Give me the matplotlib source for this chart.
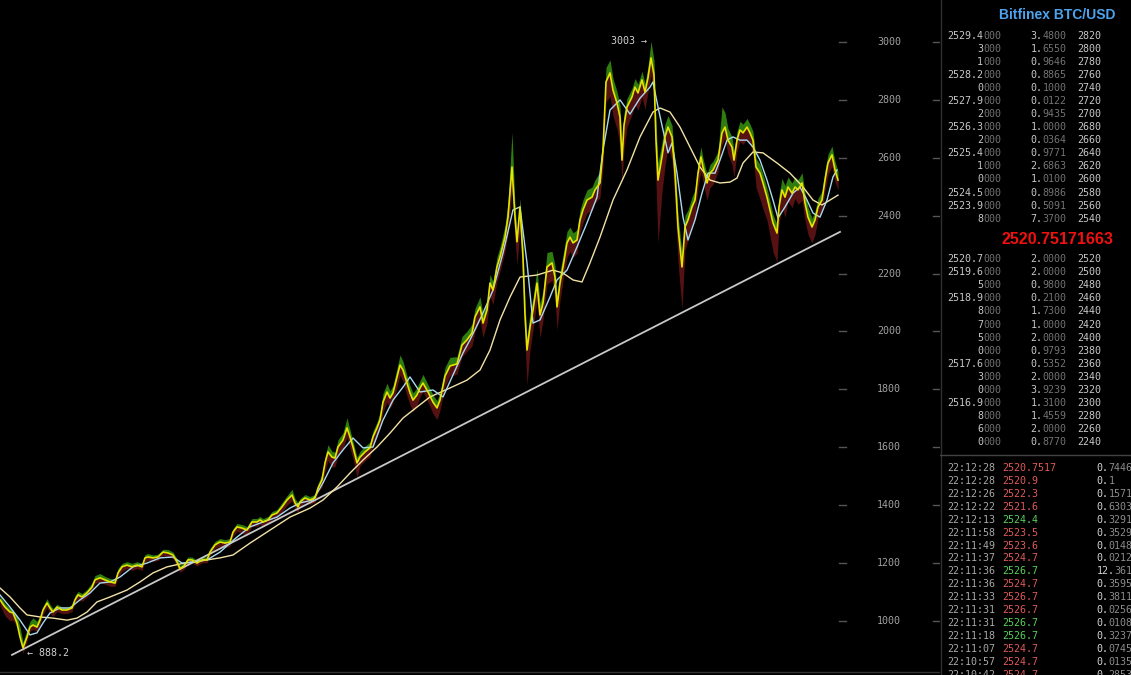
"""Bitfinex BTC/USD price chart with order book and trade tape panel."""

import matplotlib.pyplot as plt

# price series: bar index, close, wick above close, wick below close (USD)
t = [
    0, 5, 10, 13, 17, 20, 23, 27, 30, 33,
    37, 40, 43, 47, 50, 53, 57, 62, 67, 72,
    75, 78, 82, 87, 92, 95, 100, 105, 110, 115,
    118, 122, 127, 132, 137, 142, 145, 148, 153, 158,
    163, 168, 173, 177, 180, 184, 188, 192, 197, 202,
    207, 210, 215, 220, 225, 230, 233, 237, 242, 247,
    252, 257, 260, 263, 268, 272, 277, 282, 287, 292,
    295, 298, 300, 305, 310, 315, 318, 322, 325, 328,
    332, 335, 338, 343, 347, 350, 353, 357, 360, 365,
    370, 373, 377, 380, 383, 387, 390, 393, 397, 400,
    403, 407, 410, 413, 417, 420, 423, 428, 433, 437,
    440, 445, 450, 457, 462, 467, 472, 475, 480, 483,
    487, 490, 493, 497, 500, 505, 508, 512, 515, 517,
    520, 523, 525, 527, 530, 533, 537, 540, 543, 547,
    552, 555, 557, 560, 563, 567, 570, 573, 577, 580,
    583, 587, 592, 595, 600, 603, 606, 610, 613, 617,
    620, 622, 624, 627, 632, 635, 638, 642, 645, 648,
    651, 654, 656, 658, 662, 665, 668, 672, 675, 678,
    682, 685, 688, 692, 695, 698, 701, 703, 707, 710,
    713, 718, 722, 725, 728, 732, 734, 737, 740, 743,
    747, 750, 753, 756, 760, 763, 767, 770, 773, 777,
    779, 782, 785, 788, 792, 795, 798, 802, 805, 808,
    812, 815, 818, 822, 825, 828, 832, 835, 838,
]
close = [
    1073, 1048, 1031, 1028, 993, 945, 907, 945, 979, 986,
    979, 1003, 1038, 1062, 1045, 1031, 1048, 1038, 1038, 1045,
    1073, 1090, 1083, 1097, 1117, 1142, 1149, 1142, 1135, 1131,
    1166, 1187, 1193, 1187, 1193, 1187, 1218, 1221, 1218, 1221,
    1238, 1235, 1228, 1204, 1180, 1190, 1211, 1211, 1200, 1211,
    1211, 1238, 1263, 1273, 1269, 1273, 1307, 1325, 1321, 1314,
    1342, 1342, 1349, 1342, 1349, 1366, 1373, 1394, 1418, 1435,
    1408, 1394, 1411, 1425, 1418, 1425, 1459, 1487, 1546, 1584,
    1566, 1563, 1601, 1625, 1667, 1636, 1601, 1546, 1566, 1584,
    1598, 1636, 1667, 1694, 1756, 1791, 1770, 1788, 1843, 1884,
    1867, 1822, 1788, 1763, 1781, 1805, 1822, 1791, 1756, 1736,
    1763, 1846, 1881, 1888, 1953, 1971, 1995, 2050, 2085, 2029,
    2074, 2167, 2143, 2223, 2257, 2326, 2395, 2568, 2395, 2310,
    2430, 2257, 2057, 1936, 2015, 2074, 2167, 2057, 2098, 2223,
    2237, 2188, 2085, 2167, 2223, 2306, 2326, 2306, 2316, 2385,
    2420, 2454, 2464, 2489, 2513, 2627, 2862, 2893, 2834, 2789,
    2741, 2592, 2713, 2775, 2810, 2844, 2824, 2869, 2827, 2876,
    2945, 2886, 2661, 2523, 2603, 2672, 2706, 2672, 2547, 2361,
    2223, 2361, 2385, 2430, 2454, 2547, 2603, 2568, 2513, 2547,
    2558, 2592, 2686, 2706, 2661, 2637, 2592, 2661, 2696, 2686,
    2706, 2686, 2661, 2568, 2547, 2513, 2464, 2420, 2375, 2340,
    2430, 2489, 2464, 2499, 2478, 2499, 2489, 2513, 2444, 2395,
    2361, 2385, 2430, 2454, 2523, 2582, 2610, 2558, 2523,
]
wick_up = [
    12, 12, 12, 10, 25, 35, 20, 25, 20, 25,
    20, 15, 12, 15, 12, 12, 10, 10, 10, 10,
    15, 12, 12, 12, 15, 15, 15, 12, 12, 12,
    15, 12, 12, 12, 12, 12, 12, 12, 10, 10,
    10, 12, 10, 10, 12, 10, 10, 10, 10, 10,
    10, 12, 12, 12, 12, 12, 12, 12, 12, 12,
    12, 12, 12, 12, 12, 12, 12, 15, 15, 20,
    15, 15, 12, 12, 12, 12, 15, 20, 20, 25,
    20, 20, 25, 25, 35, 25, 20, 20, 20, 20,
    20, 20, 20, 25, 30, 30, 25, 25, 30, 35,
    30, 25, 25, 25, 25, 25, 30, 25, 25, 25,
    25, 30, 30, 25, 30, 30, 30, 30, 35, 30,
    30, 30, 30, 35, 35, 40, 50, 120, 40, 30,
    30, 30, 40, 40, 50, 40, 50, 40, 40, 50,
    40, 40, 40, 40, 40, 40, 35, 35, 35, 35,
    35, 35, 35, 35, 40, 50, 50, 45, 40, 40,
    40, 50, 40, 30, 30, 30, 30, 30, 30, 40,
    58, 50, 60, 60, 50, 45, 40, 40, 40, 40,
    50, 40, 35, 35, 35, 35, 35, 30, 30, 30,
    30, 30, 90, 50, 40, 35, 30, 30, 30, 30,
    30, 30, 30, 30, 30, 30, 30, 30, 30, 30,
    40, 40, 40, 35, 35, 35, 35, 35, 35, 35,
    30, 30, 30, 30, 35, 30, 30, 30, 30,
]
wick_dn = [
    20, 30, 30, 25, 15, 10, 19, 15, 15, 15,
    15, 15, 15, 15, 20, 15, 15, 12, 12, 12,
    12, 15, 15, 15, 12, 12, 15, 15, 15, 12,
    15, 15, 12, 12, 12, 12, 15, 12, 12, 12,
    12, 12, 12, 15, 12, 12, 12, 10, 10, 10,
    10, 12, 12, 15, 15, 15, 15, 15, 18, 18,
    15, 15, 15, 15, 15, 15, 15, 18, 18, 20,
    20, 20, 15, 15, 15, 15, 15, 25, 30, 30,
    35, 30, 30, 30, 30, 40, 40, 50, 30, 30,
    30, 30, 30, 30, 35, 35, 35, 35, 35, 35,
    40, 45, 40, 40, 35, 30, 30, 35, 40, 40,
    35, 35, 35, 35, 40, 40, 45, 50, 45, 50,
    45, 45, 50, 50, 50, 50, 60, 80, 80, 80,
    70, 90, 100, 120, 80, 70, 60, 80, 60, 60,
    60, 70, 80, 60, 50, 50, 50, 50, 45, 45,
    45, 45, 45, 45, 50, 60, 70, 80, 90, 90,
    100, 80, 80, 70, 60, 60, 60, 60, 60, 50,
    60, 90, 150, 217, 120, 100, 70, 80, 100, 120,
    148, 80, 70, 60, 60, 50, 50, 50, 60, 50,
    50, 40, 40, 40, 50, 60, 60, 40, 40, 40,
    40, 40, 50, 70, 90, 90, 80, 90, 100, 100,
    60, 60, 70, 50, 50, 40, 50, 60, 60, 60,
    55, 50, 40, 40, 40, 40, 40, 40, 35,
]

# fast (light blue) and slow (cream) moving averages
fast_t = [
    0, 10, 20, 30, 37, 43, 50, 60, 70, 80,
    90, 100, 110, 120, 133, 147, 160, 173, 182, 193,
    207, 220, 237, 250, 263, 277, 290, 300, 313, 323,
    333, 343, 353, 363, 373, 383, 393, 403, 410, 420,
    433, 443, 453, 463, 470, 483, 493, 503, 513, 520,
    527, 533, 540, 550, 557, 567, 577, 587, 597, 603,
    610, 620, 630, 640, 650, 653, 658, 663, 668, 672,
    677, 683, 688, 695, 702, 708, 715, 720, 727, 733,
    740, 747, 753, 760, 767, 773, 778, 785, 793, 800,
    807, 813, 820, 827, 833, 837,
]
fast_ma = [
    1090, 1048, 1003, 952, 959, 993, 1028, 1045, 1045, 1073,
    1097, 1131, 1135, 1152, 1187, 1200, 1218, 1221, 1200, 1204,
    1211, 1238, 1290, 1325, 1342, 1359, 1390, 1408, 1418, 1477,
    1546, 1591, 1632, 1598, 1601, 1694, 1763, 1808, 1843, 1791,
    1798, 1774, 1850, 1926, 1971, 2064, 2143, 2271, 2420, 2430,
    2237, 2029, 2040, 2119, 2178, 2212, 2292, 2375, 2464, 2627,
    2765, 2800, 2751, 2806, 2844, 2862, 2775, 2696, 2617, 2651,
    2547, 2395, 2316, 2385, 2478, 2547, 2547, 2592, 2661, 2672,
    2661, 2661, 2637, 2592, 2523, 2454, 2392, 2430, 2478, 2499,
    2454, 2409, 2395, 2454, 2534, 2558,
]
slow_t = [
    0, 10, 20, 27, 40, 53, 67, 77, 87, 97,
    110, 127, 140, 153, 167, 180, 193, 207, 220, 233,
    250, 270, 290, 310, 323, 337, 350, 363, 377, 390,
    403, 417, 430, 450, 467, 480, 490, 500, 510, 520,
    537, 553, 563, 573, 582, 590, 600, 613, 627, 640,
    653, 660, 670, 680, 690, 700, 710, 720, 730, 737,
    743, 753, 763, 777, 790, 803, 813, 822, 830, 838,
]
slow_ma = [
    1114, 1083, 1045, 1021, 1014, 1010, 1003, 1010, 1031, 1066,
    1083, 1107, 1135, 1166, 1187, 1197, 1204, 1211, 1218, 1228,
    1269, 1314, 1359, 1390, 1418, 1463, 1511, 1556, 1601, 1649,
    1701, 1739, 1774, 1805, 1832, 1867, 1936, 2040, 2119, 2188,
    2195, 2212, 2202, 2178, 2171, 2237, 2326, 2454, 2558, 2672,
    2758, 2772, 2758, 2706, 2637, 2568, 2523, 2513, 2516, 2530,
    2582, 2620, 2617, 2582, 2547, 2499, 2454, 2437, 2454, 2471,
]

trend_t = [12, 840]
trend_p = [883, 2344]

y_ticks = [1000, 1200, 1400, 1600, 1800, 2000, 2200, 2400, 2600, 2800, 3000]
peak_value = 3003
low_value = 888.2

# order book: price (changed digits), amount, depth level
ask_px = ["2529.4", "3", "1", "2528.2", "0", "2527.9", "2", "2526.3",
          "2", "2525.4", "1", "0", "2524.5", "2523.9", "8"]
ask_amt = ["3.4800", "1.6550", "0.9646", "0.8865", "0.1000", "0.0122",
           "0.9435", "1.0000", "0.0364", "0.9771", "2.6863", "1.0100",
           "0.8986", "0.5091", "7.3700"]
ask_lvl = ["2820", "2800", "2780", "2760", "2740", "2720", "2700", "2680",
           "2660", "2640", "2620", "2600", "2580", "2560", "2540"]
mid_price = "2520.75171663"
bid_px = ["2520.7", "2519.6", "5", "2518.9", "8", "7", "5", "0",
          "2517.6", "3", "0", "2516.9", "8", "6", "0"]
bid_amt = ["2.0000", "2.0000", "0.9800", "0.2100", "1.7300", "1.0000",
           "2.0000", "0.9793", "0.5352", "2.0000", "3.9239", "1.3100",
           "1.4559", "2.0000", "0.8770"]
bid_lvl = ["2520", "2500", "2480", "2460", "2440", "2420", "2400", "2380",
           "2360", "2340", "2320", "2300", "2280", "2260", "2240"]

# recent trades
trade_time = ["22:12:28", "22:12:28", "22:12:26", "22:12:22", "22:12:13",
              "22:11:58", "22:11:49", "22:11:37", "22:11:36", "22:11:36",
              "22:11:33", "22:11:31", "22:11:31", "22:11:18", "22:11:07",
              "22:10:57", "22:10:42"]
trade_px = ["2520.7517", "2520.9", "2522.3", "2521.6", "2524.4", "2523.5",
            "2523.6", "2524.7", "2526.7", "2524.7", "2526.7", "2526.7",
            "2526.7", "2526.7", "2524.7", "2524.7", "2524.7"]
trade_buy = [False, False, False, False, True, False, False, False, True,
             False, False, False, True, True, False, False, False]
trade_amt = ["0.7446", "0.1", "0.1571", "0.6303", "0.3291", "0.3529",
             "0.0148", "0.0212", "12.361", "0.3595", "0.3811", "0.0256",
             "0.0108", "0.3237", "0.0745", "0.0135", "0.2853"]

MONO = "DejaVu Sans Mono"
SANS = "Liberation Sans"
FS = 7.2
CW = 0.602 * FS * 100 / 72  # px per monospaced character
BRIGHT = "#c8c8c8"
DIM = "#737373"


def seg_text(ax, x, y, parts):
    """Write consecutive monospaced pieces of text in different colours."""
    for s, c in parts:
        ax.text(x, y, s, color=c, family=MONO, fontsize=FS,
                ha="left", va="center")
        x += len(s) * CW


def plot_chart(fig):
    ax = fig.add_axes([0, 0, 940 / 1131, 1])
    high = [c + u for c, u in zip(close, wick_up)]
    low = [c - d for c, d in zip(close, wick_dn)]
    ax.fill_between(t, close, high, color="#2f7d0e", lw=0)
    ax.fill_between(t, low, close, color="#561212", lw=0)
    ax.plot(trend_t, trend_p, color="#c8c8c8", lw=1.3)
    ax.plot(slow_t, slow_ma, color="#f2e2a6", lw=1.0)
    ax.plot(fast_t, fast_ma, color="#a9d9f2", lw=1.0)
    ax.plot(t, close, color="#e4e400", lw=1.2)
    ax.set_xlim(0, 940)
    ax.set_ylim(813.5, 3145)
    ax.axis("off")

    for v in y_ticks:
        ax.plot([839, 846], [v, v], color="#555555", lw=1)
        ax.plot([933, 940], [v, v], color="#555555", lw=1)
        ax.text(877, v, str(v), color="#a0a0a0", family=MONO, fontsize=FS,
                ha="left", va="center")
    ax.axhline(824, color="#333333", lw=1)

    ax.text(611, peak_value, f"{peak_value} \u2192", color="#d0d0d0",
            family=MONO, fontsize=FS, ha="left", va="center")
    ax.text(27, low_value, f"\u2190 {low_value}", color="#d0d0d0",
            family=MONO, fontsize=FS, ha="left", va="center")


def book_row(ax, y, px, amt, lvl):
    s = px + "000"
    seg_text(ax, 1001 - len(s) * CW, y, [(px, BRIGHT), ("000", DIM)])
    ip, dec = amt.split(".")
    seg_text(ax, 1030.7, y, [(ip + ".", BRIGHT), (dec, DIM)])
    seg_text(ax, 1077, y, [(lvl, BRIGHT)])


def plot_panel(fig):
    ax = fig.add_axes([940 / 1131, 0, 191 / 1131, 1])
    ax.set_xlim(940, 1131)
    ax.set_ylim(675, 0)
    ax.axis("off")
    ax.plot([940.5, 940.5], [0, 675], color="#303030", lw=1)

    ax.text(999, 15, "Bitfinex BTC/USD", color="#4da3ee", family=SANS,
            fontweight="bold", fontsize=10, ha="left", va="center")
    for i in range(len(ask_px)):
        book_row(ax, 35.7 + i * 13.07, ask_px[i], ask_amt[i], ask_lvl[i])
    ax.text(1001, 239, mid_price, color="#f01010", family=SANS,
            fontweight="bold", fontsize=11.5, ha="left", va="center")
    for i in range(len(bid_px)):
        book_row(ax, 259.3 + i * 13.05, bid_px[i], bid_amt[i], bid_lvl[i])

    ax.plot([940, 1131], [455, 455], color="#444444", lw=1)
    for i in range(len(trade_time)):
        y = 467.7 + i * 12.97
        pc = "#58d058" if trade_buy[i] else "#e05a5a"
        seg_text(ax, 947, y, [(trade_time[i], "#a8a8a8")])
        seg_text(ax, 1002.3, y, [(trade_px[i], pc)])
        ip, dec = trade_amt[i].split(".")
        seg_text(ax, 1096.7, y, [(ip + ".", "#d4d4d4"), (dec, "#8c8c8c")])


fig = plt.figure(figsize=(11.31, 6.75), dpi=100, facecolor="black")
plot_chart(fig)
plot_panel(fig)
fig.savefig("out.png", dpi=100, facecolor="black")
